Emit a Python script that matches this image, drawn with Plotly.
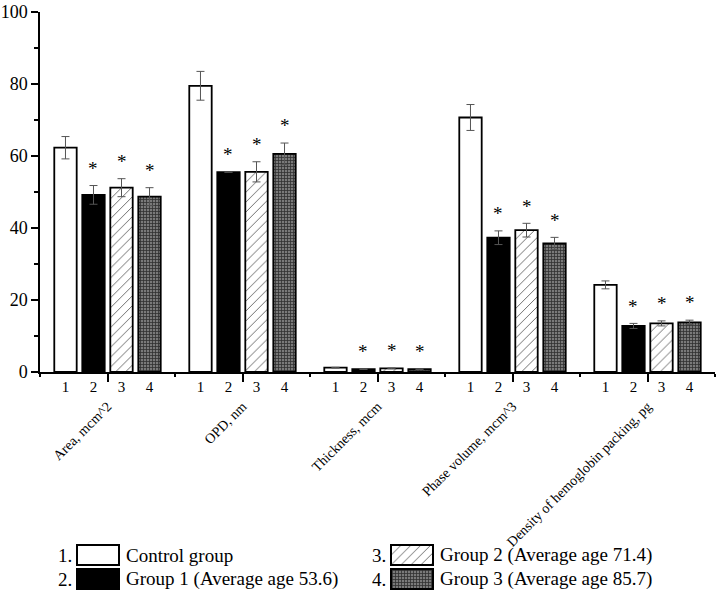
import plotly.graph_objects as go

# values
categories = ['Area, mcm^2', 'OPD, nm', 'Thickness, mcm', 'Phase volume, mcm^3',
              'Density of hemoglobin packing, pg']
group_names = ['Control group', 'Group 1 (Average age 53.6)',
               'Group 2 (Average age 71.4)', 'Group 3 (Average age 85.7)']
bar_numbers = ['1', '2', '3', '4']

control = [62.3, 79.5, 1.2, 70.7, 24.2]
group1 = [49.2, 55.5, 0.8, 37.3, 12.8]
group2 = [51.2, 55.6, 1.0, 39.4, 13.5]
group3 = [48.7, 60.6, 0.8, 35.7, 13.8]

control_err = [3.1, 4.0, 0.1, 3.6, 1.1]
group1_err = [2.6, 0.0, 0.1, 1.9, 0.7]
group2_err = [2.5, 2.8, 0.1, 1.9, 0.7]
group3_err = [2.5, 3.0, 0.1, 1.7, 0.6]

# significant vs control (asterisk)
significant = [False, True, True, True]

values = [control, group1, group2, group3]
errors = [control_err, group1_err, group2_err, group3_err]

FONT = 'Liberation Serif, Times New Roman, serif'
BARGAP = 0.17
BARGROUPGAP = 0.2

styles = [
    dict(color='white'),
    dict(color='black'),
    dict(color='white', pattern=dict(shape='/', size=7, solidity=0.12,
                                     fgcolor='#555555', bgcolor='white', fillmode='replace')),
    dict(color='#666666', pattern=dict(shape='+', size=3, solidity=0.45,
                                       fgcolor='#303030', bgcolor='#7a7a7a', fillmode='replace')),
]

xpos = list(range(len(categories)))
fig = go.Figure()

for i, name in enumerate(group_names):
    fig.add_trace(go.Bar(
        x=xpos, y=values[i], name=name, showlegend=False,
        marker=dict(**styles[i], line=dict(color='black', width=1.8)),
        error_y=dict(type='data', array=errors[i], color='#555555',
                     thickness=1, width=4),
    ))

# positions of the bars inside each group, from the bar layout settings
slot = (1 - BARGAP) / len(group_names)
def bar_center(cat, i):
    return cat - (1 - BARGAP) / 2 + (i + 0.5) * slot

num_x = [bar_center(c, i) for c in xpos for i in range(len(group_names))]
num_text = [bar_numbers[i] for c in xpos for i in range(len(group_names))]

# invisible trace to carry the 1-2-3-4 axis
fig.add_trace(go.Scatter(x=num_x, y=[0] * len(num_x), xaxis='x2', mode='markers',
                         marker=dict(opacity=0), showlegend=False, hoverinfo='skip'))

annotations = []
STAR_GAP = 4.8
for i in range(len(group_names)):
    if not significant[i]:
        continue
    for c in xpos:
        annotations.append(dict(
            x=bar_center(c, i), y=values[i][c] + errors[i][c] + STAR_GAP,
            xref='x', yref='y', text='*', showarrow=False,
            font=dict(family=FONT, size=19, color='black'),
            yanchor='middle'))

# custom legend drawn on its own small axis (pixel units)
leg_cols = [77, 77, 391, 391]
leg_rows = [555, 579, 555, 579]
leg_w = 42
leg_h = 20
for i, name in enumerate(group_names):
    fig.add_trace(go.Bar(
        y=[leg_rows[i]], x=[leg_w], base=[leg_cols[i]], orientation='h',
        xaxis='x3', yaxis='y3', width=leg_h, offset=-leg_h / 2,
        offsetgroup='legend', showlegend=False, hoverinfo='skip',
        marker=dict(**styles[i], line=dict(color='black', width=2)),
    ))
    annotations.append(dict(x=leg_cols[i] - 3, y=leg_rows[i], xref='x3', yref='y3',
                            text=f'{i + 1}.', showarrow=False, xanchor='right',
                            font=dict(family=FONT, size=19, color='black')))
    annotations.append(dict(x=leg_cols[i] + leg_w + 5, y=leg_rows[i], xref='x3', yref='y3',
                            text=name, showarrow=False, xanchor='left',
                            font=dict(family=FONT, size=19, color='black')))

H = 595
mb = 0
mt = 12
y0_px = 372
fig.update_layout(
    template='none',
    width=721, height=H,
    margin=dict(l=40, r=6, t=mt, b=mb, autoexpand=False),
    plot_bgcolor='white', paper_bgcolor='white',
    barmode='group', bargap=BARGAP, bargroupgap=BARGROUPGAP,
    font=dict(family=FONT, color='black'),
    annotations=annotations,
    xaxis=dict(
        range=[-0.5, 4.5], tickmode='array', tickvals=xpos, ticktext=categories,
        tickangle=-45, ticklabelstandoff=11, tickfont=dict(size=14),
        ticks='outside', ticklen=8, tickwidth=1.5, tickcolor='black',
        showline=True, linecolor='black', linewidth=1.5,
        showgrid=False, zeroline=False, automargin=False,
        minor=dict(tickmode='array', tickvals=[c - 0.5 for c in xpos] + [xpos[-1] + 0.5],
                   ticks='outside', ticklen=3, tickwidth=1.5, tickcolor='black',
                   showgrid=False),
    ),
    xaxis2=dict(
        overlaying='x', anchor='y', side='bottom', range=[-0.5, 4.5],
        tickmode='array', tickvals=num_x, ticktext=num_text,
        ticks='', showline=False, showgrid=False, zeroline=False, automargin=False,
        tickfont=dict(size=15), ticklabelstandoff=4,
    ),
    yaxis=dict(
        domain=[(H - mb - y0_px) / (H - mb - mt), 1],
        range=[0, 100], tickmode='array', tickvals=[0, 20, 40, 60, 80, 100],
        ticks='outside', ticklen=7, tickwidth=1.5, tickcolor='black',
        tickfont=dict(size=18), automargin=False,
        showline=True, linecolor='black', linewidth=1.5,
        showgrid=False, zeroline=False,
        minor=dict(dtick=10, tick0=0, ticks='outside', ticklen=4,
                   tickwidth=1.5, tickcolor='black', showgrid=False),
    ),
    xaxis3=dict(domain=[0, 1], range=[40, 715], anchor='y3', visible=False),
    yaxis3=dict(domain=[0, (H - 530) / (H - mb - mt)], range=[H, 530], anchor='x3',
                visible=False),
)

# the page body has a default 8px margin; drop it so the figure sits at the corner
fig.write_html('out.html', config={'displayModeBar': False},
               post_script="document.body.style.margin='0';")
